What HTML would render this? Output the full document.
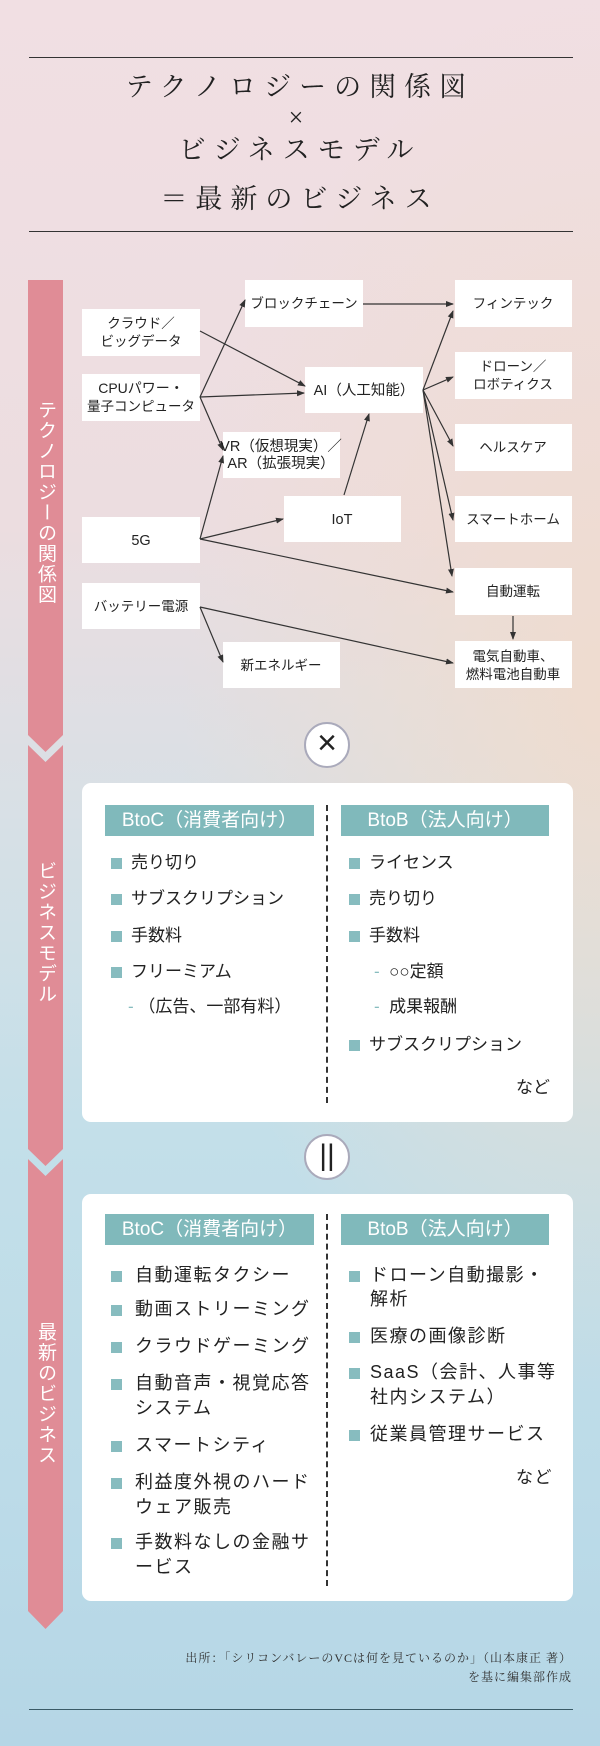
<!DOCTYPE html>
<html><head><meta charset="utf-8"><style>
*{margin:0;padding:0;box-sizing:border-box}
body{width:600px;height:1746px;position:relative;overflow:hidden;font-family:"Liberation Sans","Noto Sans CJK JP",sans-serif;color:#222;
background:radial-gradient(ellipse 420px 700px at 600px 700px,rgba(240,220,205,0.9),rgba(240,220,205,0) 100%),linear-gradient(180deg,#f1dfe3 0%,#ecdde0 30%,#d6e0e6 48%,#c3dfe9 65%,#bcdbe8 85%,#b5d6e6 100%);}
.a{position:absolute}
.t{position:absolute;left:0;width:600px;text-align:center;font-family:"Liberation Serif","Noto Serif CJK SC",serif;font-size:27px;letter-spacing:8px;color:#222;line-height:32px}
.v{position:absolute;left:28px;width:35px;writing-mode:vertical-rl;text-orientation:upright;color:#fff;font-size:19px;line-height:35px;letter-spacing:1.5px}
.li{position:absolute;font-size:17px;line-height:26px;white-space:nowrap}
.sq{position:absolute;width:11px;height:11px;background:#87bcbf}
.hd{position:absolute;height:31px;background:#80b9bb;color:#fff;font-size:19px;line-height:31px;text-align:center}
.card{position:absolute;left:82px;width:491px;background:#fff;border-radius:9px}
.dash{position:absolute;left:326px;border-left:2px dashed #333}
.circ{position:absolute;width:46px;height:46px;border-radius:50%;background:#fff;border:2px solid #aab;text-align:center}
</style></head><body>
<div class="a" style="left:29px;top:57px;width:544px;height:1px;background:#333"></div>
<div class="a" style="left:29px;top:231px;width:544px;height:1px;background:#333"></div>
<div class="t" style="top:71px">テクノロジーの関係図</div>
<div class="t" style="top:102px;font-size:26px">×</div>
<div class="t" style="top:134px">ビジネスモデル</div>
<div class="t" style="top:183px">＝最新のビジネス</div>

<svg class="a" style="left:0;top:0" width="600" height="1746">
<defs><marker id="ar" markerWidth="8" markerHeight="8" refX="7" refY="4" orient="auto" markerUnits="userSpaceOnUse"><path d="M0,1 L8,4 L0,7 z" fill="#333"/></marker></defs>
<polygon points="28,280 63,280 63,735 45.5,752 28,735" fill="#e08c96"/>
<polygon points="28,745 45.5,762 63,745 63,1149 45.5,1166 28,1149" fill="#e08c96"/>
<polygon points="28,1159 45.5,1176 63,1159 63,1611 45.5,1629 28,1611" fill="#e08c96"/>
<g fill="#fff">
<rect x="245" y="280" width="118" height="47"/>
<rect x="455" y="280" width="117" height="47"/>
<rect x="82" y="309" width="118" height="47"/>
<rect x="455" y="352" width="117" height="47"/>
<rect x="82" y="374" width="118" height="47"/>
<rect x="305" y="367" width="118" height="46"/>
<rect x="455" y="424" width="117" height="47"/>
<rect x="223" y="432" width="117" height="46"/>
<rect x="284" y="496" width="117" height="46"/>
<rect x="455" y="496" width="117" height="46"/>
<rect x="82" y="517" width="118" height="46"/>
<rect x="455" y="568" width="117" height="47"/>
<rect x="82" y="583" width="118" height="46"/>
<rect x="223" y="642" width="117" height="46"/>
<rect x="455" y="641" width="117" height="47"/>
</g>
<g stroke="#333" stroke-width="1.2" fill="none" marker-end="url(#ar)">
<line x1="200" y1="331" x2="305" y2="386"/>
<line x1="200" y1="397" x2="245" y2="300"/>
<line x1="200" y1="397" x2="304" y2="393"/>
<line x1="200" y1="397" x2="223" y2="450"/>
<line x1="200" y1="539" x2="223" y2="456"/>
<line x1="200" y1="539" x2="283" y2="519"/>
<line x1="200" y1="539" x2="453" y2="592"/>
<line x1="344" y1="495" x2="369" y2="414"/>
<line x1="363" y1="304" x2="453" y2="304"/>
<line x1="423" y1="390" x2="453" y2="311"/>
<line x1="423" y1="390" x2="453" y2="377"/>
<line x1="423" y1="390" x2="453" y2="446"/>
<line x1="423" y1="390" x2="453" y2="520"/>
<line x1="423" y1="390" x2="452" y2="576"/>
<line x1="513" y1="616" x2="513" y2="639"/>
<line x1="200" y1="607" x2="223" y2="662"/>
<line x1="200" y1="607" x2="453" y2="663"/>
</g>
<g font-family="Liberation Sans,Noto Sans CJK JP,sans-serif" font-size="13.5" fill="#222" text-anchor="middle">
<text x="304" y="308">ブロックチェーン</text>
<text x="513" y="308">フィンテック</text>
<text x="141" y="328">クラウド／</text><text x="141" y="346">ビッグデータ</text>
<text x="513" y="371">ドローン／</text><text x="513" y="389">ロボティクス</text>
<text x="141" y="393" font-size="14">CPUパワー・</text><text x="141" y="411">量子コンピュータ</text>
<text x="364" y="395" font-size="14.5">AI（人工知能）</text>
<text x="513" y="452">ヘルスケア</text>
<text x="281" y="451" font-size="14.5">VR（仮想現実）／</text><text x="281" y="468" font-size="14.5">AR（拡張現実）</text>
<text x="342" y="524" font-size="14.5">IoT</text>
<text x="513" y="524">スマートホーム</text>
<text x="141" y="545" font-size="14.5">5G</text>
<text x="513" y="596">自動運転</text>
<text x="141" y="611">バッテリー電源</text>
<text x="281" y="670">新エネルギー</text>
<text x="513" y="661">電気自動車、</text><text x="513" y="679">燃料電池自動車</text>
</g>
</svg>

<div class="v" style="top:400px">テクノロジーの関係図</div>
<div class="v" style="top:861px">ビジネスモデル</div>
<div class="v" style="top:1322px">最新のビジネス</div>

<div class="circ" style="left:304px;top:722px;font-size:34px;line-height:38px;font-weight:300">×</div>
<div class="circ" style="left:304px;top:1134px;font-size:30px;line-height:40px">||</div>

<div class="card" style="top:783px;height:339px"></div>
<div class="hd" style="left:105px;top:805px;width:209px">BtoC（消費者向け）</div>
<div class="hd" style="left:341px;top:805px;width:208px">BtoB（法人向け）</div>
<div class="dash" style="top:805px;height:298px"></div>
<div class="sq" style="left:111px;top:858px"></div><div class="li" style="left:131px;top:850px">売り切り</div>
<div class="sq" style="left:111px;top:894px"></div><div class="li" style="left:131px;top:886px">サブスクリプション</div>
<div class="sq" style="left:111px;top:931px"></div><div class="li" style="left:131px;top:923px">手数料</div>
<div class="sq" style="left:111px;top:967px"></div><div class="li" style="left:131px;top:959px">フリーミアム</div>
<div class="li" style="left:128px;top:994px"><span style="color:#87bcbf">-</span> （広告、一部有料）</div>
<div class="sq" style="left:349px;top:858px"></div><div class="li" style="left:369px;top:850px">ライセンス</div>
<div class="sq" style="left:349px;top:894px"></div><div class="li" style="left:369px;top:886px">売り切り</div>
<div class="sq" style="left:349px;top:931px"></div><div class="li" style="left:369px;top:923px">手数料</div>
<div class="li" style="left:374px;top:959px"><span style="color:#87bcbf">-</span>&nbsp;&nbsp;○○定額</div>
<div class="li" style="left:374px;top:994px"><span style="color:#87bcbf">-</span>&nbsp;&nbsp;成果報酬</div>
<div class="sq" style="left:349px;top:1040px"></div><div class="li" style="left:369px;top:1032px">サブスクリプション</div>
<div class="li" style="left:516px;top:1075px">など</div>

<div class="card" style="top:1194px;height:407px"></div>
<div class="hd" style="left:105px;top:1214px;width:209px">BtoC（消費者向け）</div>
<div class="hd" style="left:341px;top:1214px;width:208px">BtoB（法人向け）</div>
<div class="dash" style="top:1214px;height:372px"></div>
<div style="letter-spacing:1.5px">
<div class="sq" style="left:111px;top:1271px"></div><div class="li" style="left:135px;top:1263px;font-size:18px;line-height:25px">自動運転タクシー</div>
<div class="sq" style="left:111px;top:1305px"></div><div class="li" style="left:135px;top:1297px;font-size:18px;line-height:25px">動画ストリーミング</div>
<div class="sq" style="left:111px;top:1342px"></div><div class="li" style="left:135px;top:1334px;font-size:18px;line-height:25px">クラウドゲーミング</div>
<div class="sq" style="left:111px;top:1379px"></div><div class="li" style="left:135px;top:1371px;font-size:18px;line-height:25px">自動音声・視覚応答<br>システム</div>
<div class="sq" style="left:111px;top:1441px"></div><div class="li" style="left:135px;top:1433px;font-size:18px;line-height:25px">スマートシティ</div>
<div class="sq" style="left:111px;top:1478px"></div><div class="li" style="left:135px;top:1470px;font-size:18px;line-height:25px">利益度外視のハード<br>ウェア販売</div>
<div class="sq" style="left:111px;top:1538px"></div><div class="li" style="left:135px;top:1530px;font-size:18px;line-height:25px">手数料なしの金融サ<br>ービス</div>
<div class="sq" style="left:349px;top:1271px"></div><div class="li" style="left:370px;top:1263px;font-size:18px;line-height:24px">ドローン自動撮影・<br>解析</div>
<div class="sq" style="left:349px;top:1332px"></div><div class="li" style="left:370px;top:1324px;font-size:18px;line-height:25px">医療の画像診断</div>
<div class="sq" style="left:349px;top:1368px"></div><div class="li" style="left:370px;top:1360px;font-size:18px;line-height:25px">SaaS（会計、人事等<br>社内システム）</div>
<div class="sq" style="left:349px;top:1430px"></div><div class="li" style="left:370px;top:1422px;font-size:18px;line-height:25px">従業員管理サービス</div>
<div class="li" style="left:516px;top:1465px;font-size:17px">など</div>
</div>

<div class="a" style="right:28px;top:1649px;text-align:right;font-family:'Liberation Serif','Noto Serif CJK SC',serif;font-size:12px;line-height:19px;letter-spacing:1px;color:#333">出所：「シリコンバレーのVCは何を見ているのか」（山本康正 著）<br>を基に編集部作成</div>
<div class="a" style="left:29px;top:1709px;width:544px;height:1px;background:#3a5a66"></div>
</body></html>
